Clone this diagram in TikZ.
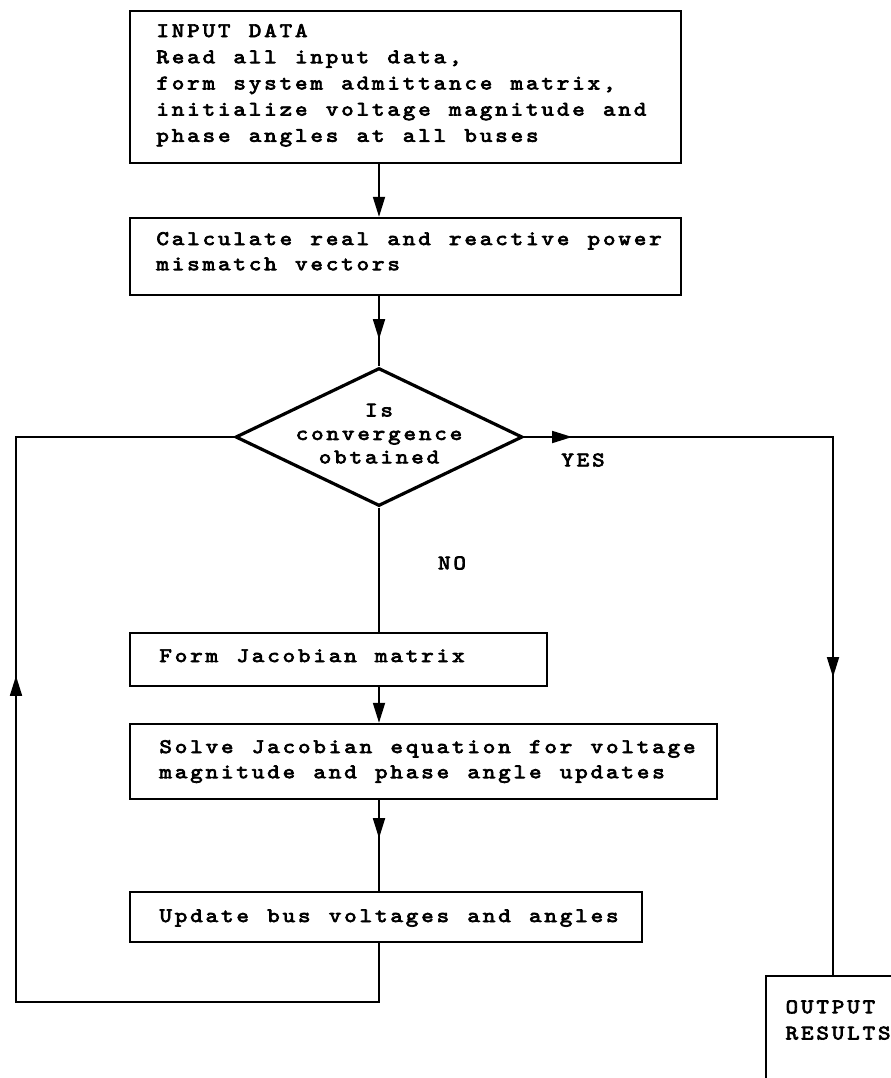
\documentclass[tikz,border=0pt]{standalone}
\usepackage{fontspec}
\usetikzlibrary{arrows.meta,shapes.geometric,decorations.markings}
\newfontfamily\tw{lmmono10-regular.otf}[FakeBold=3.5,FakeStretch=1.15]
\newlength\monoadv
\setlength\monoadv{11.55pt}
\ExplSyntaxOn
\NewDocumentCommand\mono{m}{\str_map_inline:nn{#1}{\makebox[\monoadv][c]{##1}}}
\ExplSyntaxOff
\newcommand\boxfont{\tw\fontsize{15.5}{18.9}\selectfont}
\newcommand\topfont{\tw\fontsize{15.5}{19.65}\selectfont}
\newcommand\diafont{\tw\fontsize{15.5}{17.6}\selectfont}
\tikzset{
  >={Triangle[length=15pt,width=9pt]},
  box/.style={draw, rectangle, line width=1.8pt, inner ysep=0pt, align=left, font=\boxfont},
  dia/.style={draw, diamond, line width=2.4pt, inner sep=0pt, font=\diafont},
  lbl/.style={font=\boxfont, inner sep=0pt},
  conn/.style={line width=1.3pt},
  midarrow/.style={postaction={decorate,decoration={markings,mark=at position #1 with {\arrow{>}}}}},
}
\begin{document}
\begin{tikzpicture}[x=0.75pt,y=-0.75pt]
\path[use as bounding box] (0,0) rectangle (891,1078);
\clip (0,0) rectangle (891,1078);
\fill[white] (0,0) rectangle (891,1078);

% boxes
\node[box, font=\topfont, minimum width=551*0.75pt, text height=19.5pt, text depth=94.5pt,
      text width=501*0.75pt, inner xsep=25*0.75pt] (in) at (405.5,87)
  {\mono{INPUT DATA}\\\mono{Read all input data,}\\\mono{form system admittance matrix,}\\\mono{initialize voltage magnitude and}\\\mono{phase angles at all buses}};
\node[box, minimum width=551*0.75pt, text height=20.25pt, text depth=37.5pt,
      text width=501*0.75pt, inner xsep=25*0.75pt] (calc) at (405.5,256.5)
  {\mono{Calculate real and reactive power}\\\mono{mismatch vectors}};
\node[dia, minimum width=287*0.75pt, minimum height=138*0.75pt] (dec) at (379,437)
  {\smash{\raisebox{-2.25pt}{\makebox[0pt]{\begin{tabular}{@{}c@{}}\mono{Is}\\\mono{convergence}\\\mono{obtained}\end{tabular}}}}};
\node[box, minimum width=417*0.75pt, text height=21.75pt, text depth=18pt,
      text width=361*0.75pt, inner xsep=28*0.75pt] (jac) at (338.5,659.5)
  {\mono{Form Jacobian matrix}};
\node[box, minimum width=587*0.75pt, text height=21.75pt, text depth=34.5pt,
      text width=531*0.75pt, inner xsep=28*0.75pt] (solve) at (423.5,761.5)
  {\mono{Solve Jacobian equation for voltage}\\\mono{magnitude and phase angle updates}};
\node[box, minimum width=512*0.75pt, text height=22.5pt, text depth=15pt,
      text width=456*0.75pt, inner xsep=28*0.75pt] (upd) at (386,917)
  {\mono{Update bus voltages and angles}};
\node[box, font=\topfont, anchor=north west, inner xsep=18*0.75pt, text height=27.75pt,
      text depth=110pt, text width=150pt] (out) at (765,975)
  {\mono{OUTPUT}\\\mono{RESULTS}};

% labels
\node[lbl] (yes) at (583,460) {\mono{YES}};
\node[lbl] (no) at (452,563) {\mono{NO}};

% connectors
\coordinate (yc) at (833,437);
\coordinate (loopA) at (379,1002);
\coordinate (loopB) at (16,1002);
\coordinate (loopC) at (16,437);

\draw[conn,->] (in.south -| dec.north) -- (calc.north -| dec.north);
\draw[conn,midarrow=32.25pt] (calc.south -| dec.north) -- (dec.north);
\draw[conn,midarrow=36pt,midarrow=411.75pt] (dec.east) -- (yc) -- (out.north -| yc);
\draw[conn] (dec.south) -- (jac.north -| dec.south);
\draw[conn,->] (jac.south -| dec.south) -- (solve.north -| dec.south);
\draw[conn,midarrow=28.5pt] (solve.south -| dec.south) -- (upd.north -| dec.south);
\draw[conn,midarrow=561pt] (upd.south -| dec.south) -- (loopA) -- (loopB) -- (loopC) -- (dec.west);
\end{tikzpicture}
\end{document}
